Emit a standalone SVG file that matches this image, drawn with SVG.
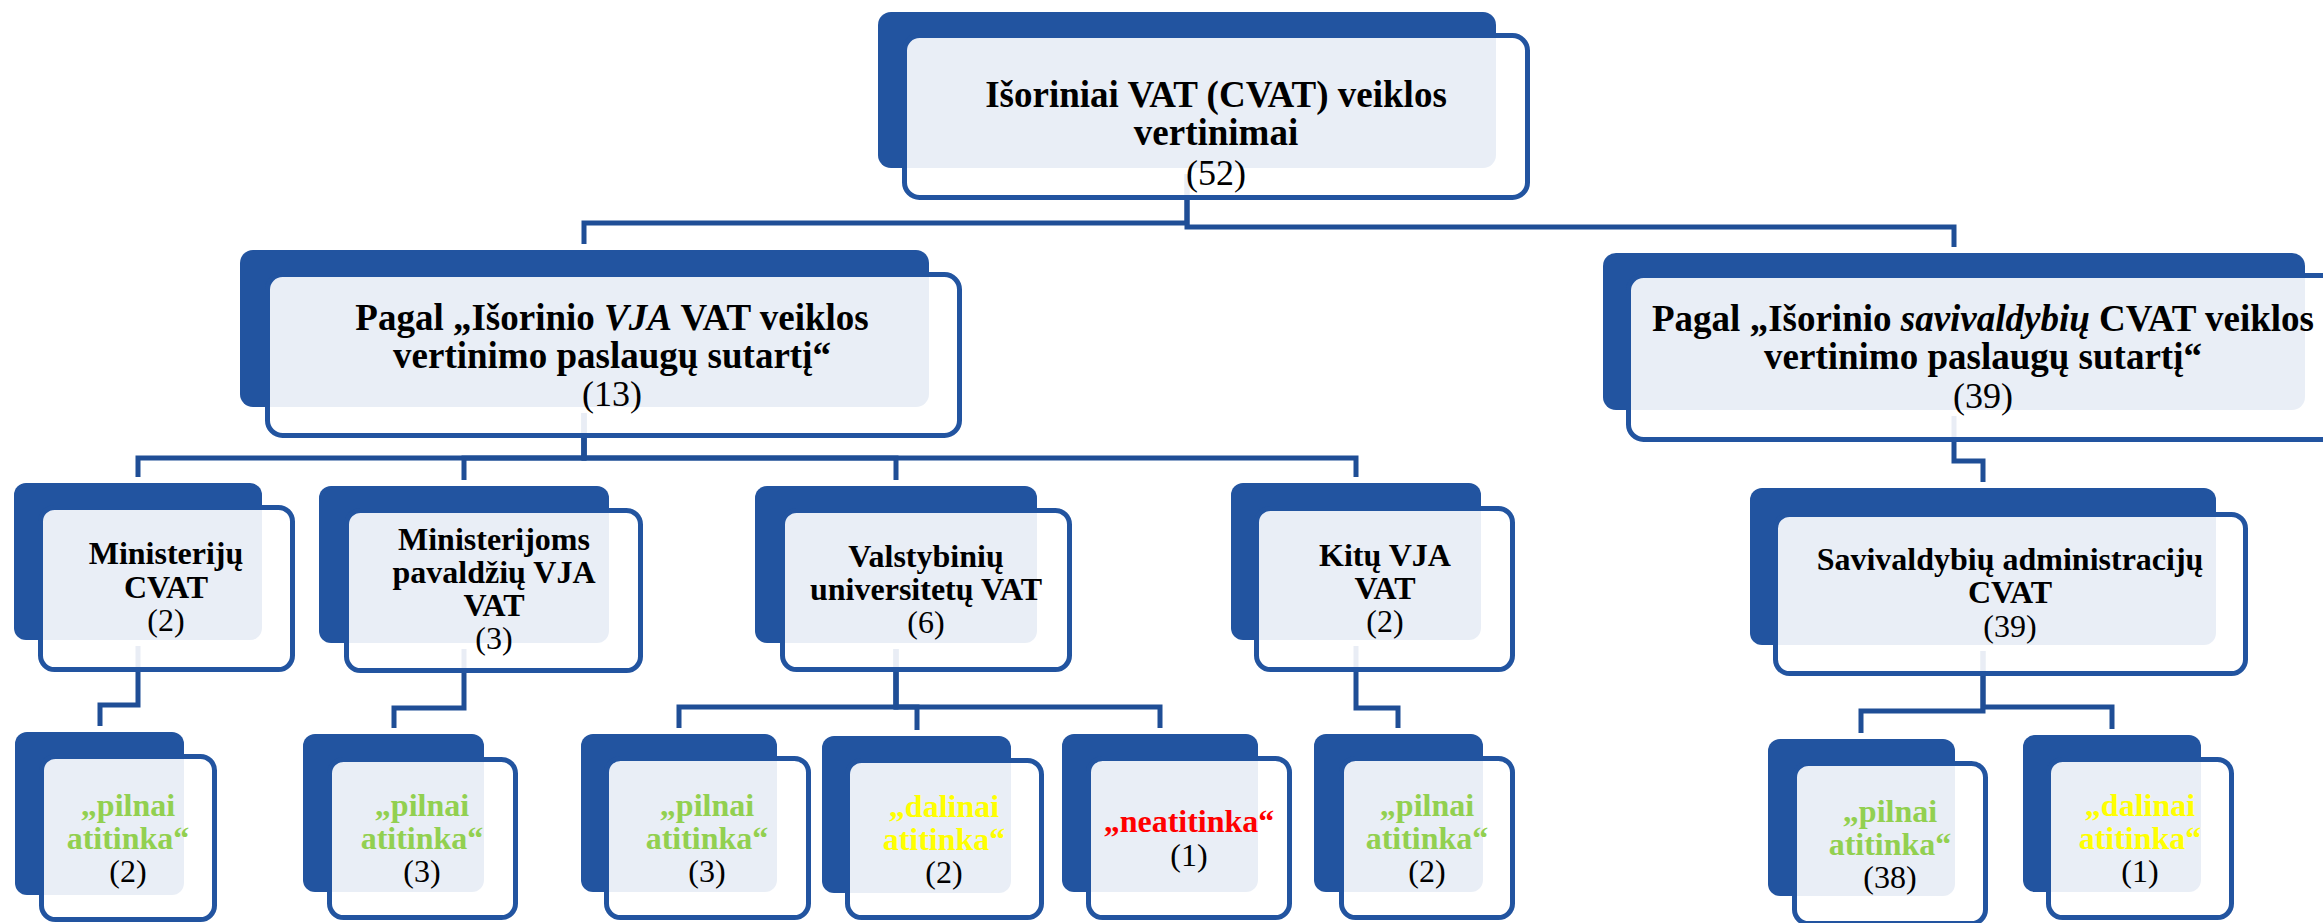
<svg xmlns="http://www.w3.org/2000/svg" width="2323" height="923" viewBox="0 0 2323 923">
<style>
.dk{fill:#2254A0}
.fr{fill:#ffffff;fill-opacity:0.9;stroke:#2254A0;stroke-width:5}
.cn{fill:none;stroke:#1F4E96;stroke-width:5}
text{font-family:"Liberation Serif","Times New Roman",Times,serif;text-anchor:middle;fill:#000;font-weight:bold}
.t1{font-size:37px}
.t3{font-size:32px}
.n1{font-size:36px;font-weight:normal;fill:#000}
.n3{font-size:32px;font-weight:normal;fill:#000}
.g{fill:#92D050}
.y{fill:#FFFF00}
.rd{fill:#FF0000}
</style>
<rect width="2323" height="923" fill="#ffffff"/>
<g id="connectors">
<path class="cn" d="M1187,174 V223 H584 V244"/>
<path class="cn" d="M1187,174 V227 H1954 V247"/>
<path class="cn" d="M584,413 V458 H138 V477"/>
<path class="cn" d="M584,413 V458 H464 V480"/>
<path class="cn" d="M584,413 V458 H896 V480"/>
<path class="cn" d="M584,413 V458 H1356 V477"/>
<path class="cn" d="M1954,416 V461 H1983 V482"/>
<path class="cn" d="M138,646 V705 H100 V726"/>
<path class="cn" d="M464,649 V708 H394 V728"/>
<path class="cn" d="M896,649 V707 H679 V728"/>
<path class="cn" d="M896,649 V707 H917 V730"/>
<path class="cn" d="M896,649 V707 H1160 V728"/>
<path class="cn" d="M1356,646 V708 H1398 V728"/>
<path class="cn" d="M1983,651 V711 H1861 V733"/>
<path class="cn" d="M1983,651 V707 H2112 V729"/>
</g>
<g id="n-top">
<rect class="dk" x="878" y="12" width="618" height="156" rx="13"/>
<rect class="fr" x="904.5" y="35.5" width="623" height="162" rx="15"/>
<text class="t1"><tspan x="1216" y="107">Išoriniai VAT (CVAT) veiklos</tspan><tspan x="1216" y="145">vertinimai</tspan><tspan class="n1" x="1216" y="185">(52)</tspan></text>
</g>
<g id="n-vja">
<rect class="dk" x="240" y="250" width="689" height="157" rx="13"/>
<rect class="fr" x="267.5" y="274.5" width="692" height="161" rx="15"/>
<text class="t1"><tspan x="612" y="330">Pagal „Išorinio <tspan font-style="italic">VJA</tspan> VAT veiklos</tspan><tspan x="612" y="368">vertinimo paslaugų sutartį“</tspan><tspan class="n1" x="612" y="406">(13)</tspan></text>
</g>
<g id="n-sav">
<rect class="dk" x="1603" y="253" width="702" height="157" rx="13"/>
<rect class="fr" x="1628.5" y="275.5" width="708" height="164" rx="15"/>
<text class="t1"><tspan x="1983" y="331">Pagal „Išorinio <tspan font-style="italic">savivaldybių</tspan> CVAT veiklos</tspan><tspan x="1983" y="369">vertinimo paslaugų sutartį“</tspan><tspan class="n1" x="1983" y="408">(39)</tspan></text>
</g>
<g id="n-min">
<rect class="dk" x="14" y="483" width="248" height="157" rx="12"/>
<rect class="fr" x="40.5" y="507.5" width="252" height="162" rx="14"/>
<text class="t3"><tspan x="166" y="564">Ministerijų</tspan><tspan x="166" y="598">CVAT</tspan><tspan class="n3" x="166" y="631">(2)</tspan></text>
</g>
<g id="n-pav">
<rect class="dk" x="319" y="486" width="290" height="157" rx="12"/>
<rect class="fr" x="346.5" y="510.5" width="294" height="160" rx="14"/>
<text class="t3"><tspan x="494" y="550">Ministerijoms</tspan><tspan x="494" y="583">pavaldžių VJA</tspan><tspan x="494" y="616">VAT</tspan><tspan class="n3" x="494" y="649">(3)</tspan></text>
</g>
<g id="n-uni">
<rect class="dk" x="755" y="486" width="282" height="157" rx="12"/>
<rect class="fr" x="782.5" y="510.5" width="287" height="159" rx="14"/>
<text class="t3"><tspan x="926" y="567">Valstybinių</tspan><tspan x="926" y="600">universitetų VAT</tspan><tspan class="n3" x="926" y="633">(6)</tspan></text>
</g>
<g id="n-kit">
<rect class="dk" x="1231" y="483" width="250" height="157" rx="12"/>
<rect class="fr" x="1256.5" y="508.5" width="256" height="161" rx="14"/>
<text class="t3"><tspan x="1385" y="566">Kitų VJA</tspan><tspan x="1385" y="599">VAT</tspan><tspan class="n3" x="1385" y="632">(2)</tspan></text>
</g>
<g id="n-adm">
<rect class="dk" x="1750" y="488" width="466" height="157" rx="12"/>
<rect class="fr" x="1775.5" y="514.5" width="470" height="159" rx="14"/>
<text class="t3"><tspan x="2010" y="570">Savivaldybių administracijų</tspan><tspan x="2010" y="603">CVAT</tspan><tspan class="n3" x="2010" y="637">(39)</tspan></text>
</g>
<g id="n-a">
<rect class="dk" x="15" y="732" width="169" height="163" rx="12"/>
<rect class="fr" x="41.5" y="756.5" width="173" height="163" rx="14"/>
<text class="t3 g"><tspan x="128" y="816">„pilnai</tspan><tspan x="128" y="849">atitinka“</tspan><tspan class="n3" x="128" y="882">(2)</tspan></text>
</g>
<g id="n-b">
<rect class="dk" x="303" y="734" width="181" height="158" rx="12"/>
<rect class="fr" x="329.5" y="759.5" width="186" height="158" rx="14"/>
<text class="t3 g"><tspan x="422" y="816">„pilnai</tspan><tspan x="422" y="849">atitinka“</tspan><tspan class="n3" x="422" y="882">(3)</tspan></text>
</g>
<g id="n-c">
<rect class="dk" x="581" y="734" width="196" height="158" rx="12"/>
<rect class="fr" x="606.5" y="758.5" width="202" height="159" rx="14"/>
<text class="t3 g"><tspan x="707" y="816">„pilnai</tspan><tspan x="707" y="849">atitinka“</tspan><tspan class="n3" x="707" y="882">(3)</tspan></text>
</g>
<g id="n-d">
<rect class="dk" x="822" y="736" width="189" height="157" rx="12"/>
<rect class="fr" x="847.5" y="760.5" width="194" height="157" rx="14"/>
<text class="t3 y"><tspan x="944" y="817">„dalinai</tspan><tspan x="944" y="850">atitinka“</tspan><tspan class="n3" x="944" y="883">(2)</tspan></text>
</g>
<g id="n-e">
<rect class="dk" x="1062" y="734" width="196" height="158" rx="12"/>
<rect class="fr" x="1088.5" y="758.5" width="201" height="159" rx="14"/>
<text class="t3 rd"><tspan x="1189" y="832">„neatitinka“</tspan><tspan class="n3" x="1189" y="866">(1)</tspan></text>
</g>
<g id="n-f">
<rect class="dk" x="1314" y="734" width="169" height="158" rx="12"/>
<rect class="fr" x="1341.5" y="758.5" width="171" height="159" rx="14"/>
<text class="t3 g"><tspan x="1427" y="816">„pilnai</tspan><tspan x="1427" y="849">atitinka“</tspan><tspan class="n3" x="1427" y="882">(2)</tspan></text>
</g>
<g id="n-g">
<rect class="dk" x="1768" y="739" width="187" height="157" rx="12"/>
<rect class="fr" x="1794.5" y="763.5" width="191" height="160" rx="14"/>
<text class="t3 g"><tspan x="1890" y="822">„pilnai</tspan><tspan x="1890" y="855">atitinka“</tspan><tspan class="n3" x="1890" y="888">(38)</tspan></text>
</g>
<g id="n-h">
<rect class="dk" x="2023" y="735" width="178" height="157" rx="12"/>
<rect class="fr" x="2048.5" y="759.5" width="183" height="158" rx="14"/>
<text class="t3 y"><tspan x="2140" y="816">„dalinai</tspan><tspan x="2140" y="849">atitinka“</tspan><tspan class="n3" x="2140" y="882">(1)</tspan></text>
</g>
</svg>
